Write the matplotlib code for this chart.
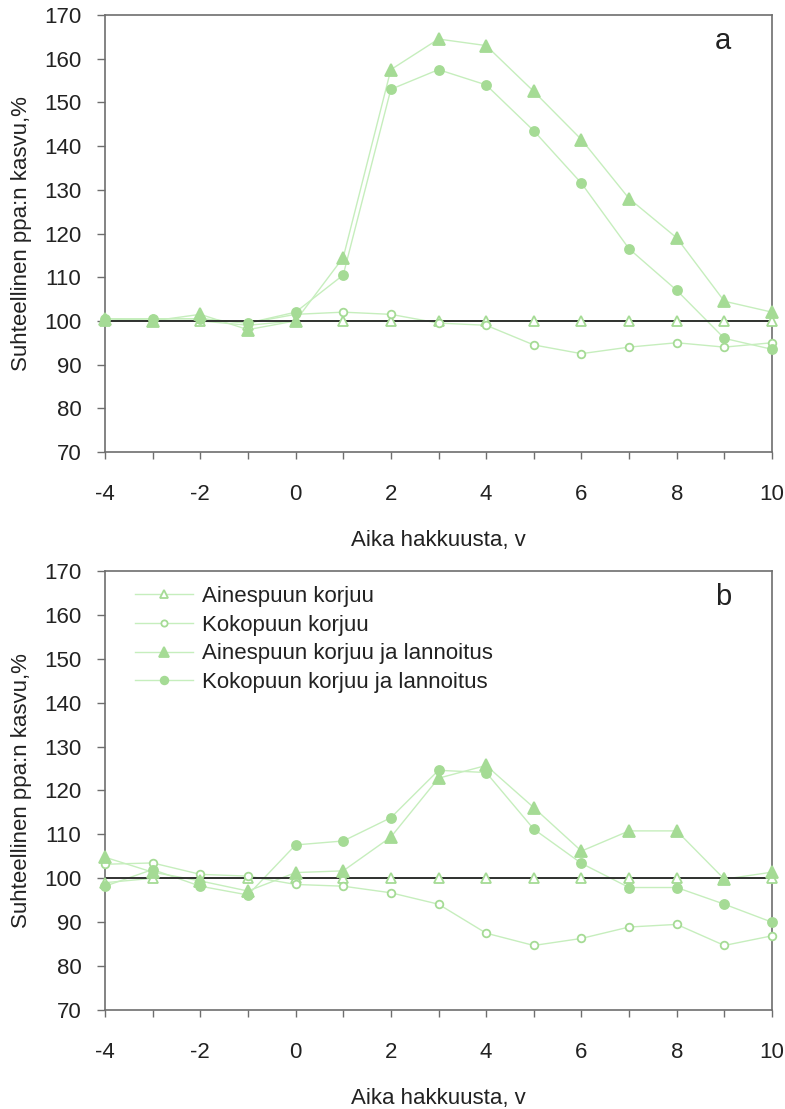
import matplotlib

matplotlib.use("Agg")
import matplotlib.pyplot as plt

plt.rcParams["font.family"] = ["Liberation Sans", "DejaVu Sans"]

YEARS = list(range(-4, 11))

SERIES = [
    "Ainespuun korjuu",
    "Kokopuun korjuu",
    "Ainespuun korjuu ja lannoitus",
    "Kokopuun korjuu ja lannoitus",
]

# panel a
A_AINES = [100, 100, 100, 99, 100, 100, 100, 100, 100, 100, 100, 100, 100, 100, 100]
A_KOKO = [100, 100.5, 100.5, 99.5, 101.5, 102, 101.5, 99.5, 99, 94.5, 92.5, 94, 95, 94, 95]
A_AINES_L = [100.5, 100, 101.5, 98, 100, 114.5, 157.5, 164.5, 163, 152.5, 141.5, 128, 119, 104.5, 102]
A_KOKO_L = [100.5, 100.5, 100.5, 99.5, 102, 110.5, 153, 157.5, 154, 143.5, 131.5, 116.5, 107, 96, 93.5]

# panel b
B_AINES = [99, 100, 100, 100, 100, 100, 100, 100, 100, 100, 100, 100, 100, 100, 100]
B_KOKO = [103.2, 103.5, 100.9, 100.5, 98.6, 98.2, 96.7, 94.1, 87.5, 84.7, 86.3, 88.9, 89.5, 84.7, 86.9]
B_AINES_L = [104.8, 101.4, 99.4, 97.1, 101.3, 101.7, 109.4, 122.8, 125.7, 116.1, 106.2, 110.8, 110.8, 99.8, 101.4]
B_KOKO_L = [98.2, 102, 98.2, 96.2, 107.6, 108.5, 113.8, 124.6, 124.1, 111.2, 103.4, 97.9, 97.9, 94.1, 90]

LINE_C = "#c6eebd"
MARK_C = "#a5db95"
AXIS_C = "#6e6e6e"
TEXT_C = "#222222"

STYLES = [
    dict(marker="^", mfc="white", ms=7),
    dict(marker="o", mfc="white", ms=5.5),
    dict(marker="^", mfc=MARK_C, ms=8),
    dict(marker="o", mfc=MARK_C, ms=6.5),
]

FS = 16

fig = plt.figure(figsize=(7.85, 11.09), dpi=100)
ax_a = fig.add_axes([105 / 785, 1 - 452 / 1109, 667 / 785, 437 / 1109])
ax_b = fig.add_axes([105 / 785, 1 - 1010 / 1109, 667 / 785, 439 / 1109])


def draw(ax, data, letter, legend=False):
    # lines first, then the 100 reference line, markers on top
    for vals in data:
        ax.plot(YEARS, vals, color=LINE_C, lw=1.0, zorder=2, clip_on=False)
    ax.axhline(100, color=TEXT_C, lw=1.3, zorder=2.5)
    for name, vals, st in zip(SERIES, data, STYLES):
        ax.plot(YEARS, vals, ls="none", marker=st["marker"], mfc=st["mfc"],
                mec=MARK_C, mew=1.3, ms=st["ms"], zorder=3, clip_on=False)
    ax.set_xlim(-4, 10)
    ax.set_ylim(70, 170)
    ax.set_xticks(range(-4, 11))
    ax.set_xticklabels([str(x) if x % 2 == 0 else "" for x in range(-4, 11)])
    ax.set_yticks(range(70, 171, 10))
    for s in ax.spines.values():
        s.set_color(AXIS_C)
        s.set_linewidth(1.2)
    ax.tick_params(axis="x", direction="out", length=5, width=1.0, color=AXIS_C,
                   pad=18, labelsize=FS, labelcolor=TEXT_C)
    ax.tick_params(axis="y", direction="out", length=6, width=1.0, color=AXIS_C,
                   pad=11, labelsize=FS, labelcolor=TEXT_C)
    ax.set_xlabel("Aika hakkuusta, v", fontsize=FS, labelpad=18, color=TEXT_C)
    ax.set_ylabel("Suhteellinen ppa:n kasvu,%", fontsize=FS, labelpad=9,
                  color=TEXT_C)
    ax.text(0.927, 0.94, letter, transform=ax.transAxes, fontsize=21,
            ha="center", va="center", color=TEXT_C)
    if legend:
        handles = [
            plt.Line2D([], [], color=LINE_C, lw=1.0, marker=st["marker"],
                       mfc=st["mfc"], mec=MARK_C, mew=1.3, ms=st["ms"] - 1)
            for st in STYLES
        ]
        ax.legend(handles, SERIES, loc="upper left", bbox_to_anchor=(0.015, 1.012),
                  frameon=False, fontsize=FS, handlelength=2.6,
                  handletextpad=0.4, labelspacing=0.35, labelcolor=TEXT_C)


draw(ax_a, [A_AINES, A_KOKO, A_AINES_L, A_KOKO_L], "a")
draw(ax_b, [B_AINES, B_KOKO, B_AINES_L, B_KOKO_L], "b", legend=True)

fig.savefig("out.png", dpi=100)
